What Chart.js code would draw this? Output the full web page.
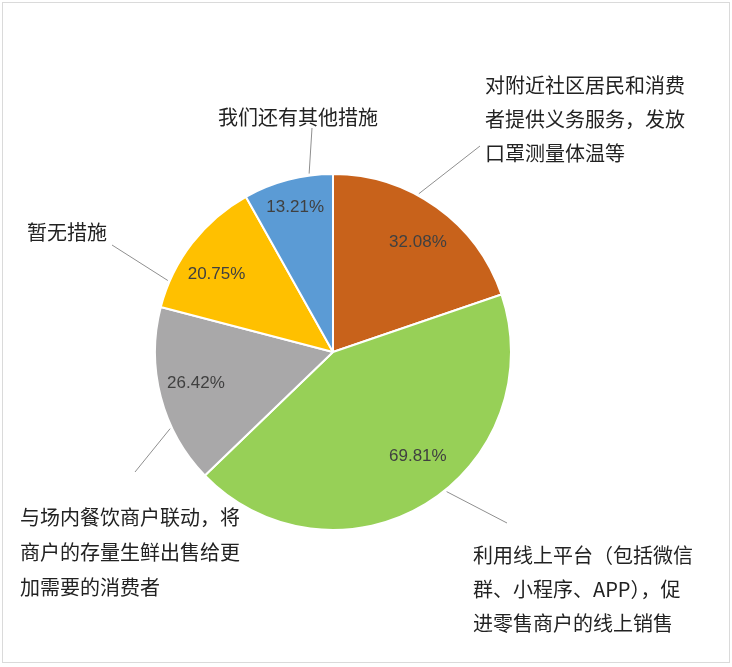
<!DOCTYPE html>
<html>
<head>
<meta charset="utf-8">
<title>商户防疫措施</title>
<script src="https://cdn.jsdelivr.net/npm/chart.js@4/dist/chart.umd.min.js"></script>
<style>
  html, body { margin: 0; padding: 0; background: #fff; }
  #wrap { position: relative; width: 732px; height: 667px; }
  #frame { position: absolute; left: 2px; top: 2px; width: 726px; height: 659px; border: 1px solid #dadada; pointer-events: none; }
  canvas { position: absolute; left: 0; top: 0; }
</style>
</head>
<body>
<div id="wrap">
  <canvas id="pie" width="732" height="667"></canvas>
  <div id="frame"></div>
</div>
<script>
// categories, already broken into the lines shown in the picture
const categories = [
    ["对附近社区居民和消费", "者提供义务服务，发放", "口罩测量体温等"],
    ["利用线上平台（包括微信", "群、小程序、APP），促", "进零售商户的线上销售"],
    ["与场内餐饮商户联动，将", "商户的存量生鲜出售给更", "加需要的消费者"],
    ["暂无措施"],
    ["我们还有其他措施"]
];
const shares = [32.08, 69.81, 26.42, 20.75, 13.21];
const colors = ["#C8621B", "#97D057", "#A9A8A9", "#FFC000", "#5B9BD5"];

// where each outside label sits and where its leader line goes
const labelLayout = [
    { x: 485, y: 85, lh: 34, lineAt: 0.40, lineEnd: [480, 146] },
    { x: 473, y: 555, lh: 34, lineAt: 0.45, lineEnd: [507, 523] },
    { x: 20, y: 517, lh: 35, lineAt: 0.32, lineEnd: [135, 472] },
    { x: 27, y: 232, lh: 34, lineAt: 0.19, lineEnd: [112, 245] },
    { x: 218, y: 117, lh: 34, lineAt: 0.74, lineEnd: [312, 128] }
];
// percentage label spot inside each slice: fraction of the slice sweep, fraction of radius
const pctLayout = [[0.53, 0.78], [0.45, 0.755], [0.53, 0.79], [0.41, 0.785], [0.5, 0.84]];

const pieLabels = {
    id: "pieLabels",
    afterDatasetsDraw(chart) {
        const ctx = chart.ctx;
        const arcs = chart.getDatasetMeta(0).data;
        ctx.save();
        arcs.forEach((arc, i) => {
            const { x, y, startAngle, endAngle, outerRadius } = arc.getProps(["x", "y", "startAngle", "endAngle", "outerRadius"], true);

            // value inside the slice
            const pa = startAngle + (endAngle - startAngle) * pctLayout[i][0];
            const pr = outerRadius * pctLayout[i][1];
            ctx.font = "17px 'Liberation Sans', Arial, sans-serif";
            ctx.fillStyle = "#404040";
            ctx.textAlign = "center";
            ctx.textBaseline = "middle";
            ctx.fillText(shares[i].toFixed(2) + "%", x + Math.cos(pa) * pr, y + Math.sin(pa) * pr);

            // leader line
            const lay = labelLayout[i];
            const la = startAngle + (endAngle - startAngle) * lay.lineAt;
            ctx.strokeStyle = "#8f8f8f";
            ctx.lineWidth = 1;
            ctx.beginPath();
            ctx.moveTo(x + Math.cos(la) * (outerRadius + 2), y + Math.sin(la) * (outerRadius + 2));
            ctx.lineTo(lay.lineEnd[0], lay.lineEnd[1]);
            ctx.stroke();

            // category text
            ctx.font = "20px 'Noto Sans CJK SC', sans-serif";
            ctx.fillStyle = "#222";
            ctx.textAlign = "left";
            categories[i].forEach((line, k) => ctx.fillText(line, lay.x, lay.y + k * lay.lh));
        });
        ctx.restore();
    }
};

new Chart(document.getElementById("pie"), {
    type: "pie",
    data: {
        labels: categories.map(c => c.join("")),
        datasets: [{
            data: shares,
            backgroundColor: colors,
            borderColor: "#ffffff",
            borderWidth: 2
        }]
    },
    options: {
        responsive: false,
        animation: false,
        devicePixelRatio: 1,
        rotation: 0,
        layout: { padding: { left: 154, right: 220, top: 173, bottom: 136 } },
        plugins: {
            legend: { display: false },
            tooltip: { enabled: false }
        }
    },
    plugins: [pieLabels]
});
</script>
</body>
</html>
